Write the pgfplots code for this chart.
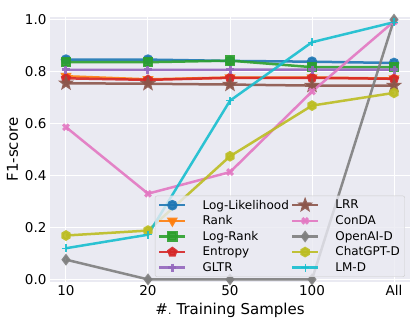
\documentclass[border=0pt]{standalone}
\usepackage{fontspec}
\setmainfont{DejaVu Sans}
\usepackage{pgfplots}
\pgfplotsset{compat=1.18}
\usetikzlibrary{plotmarks}

\definecolor{bgc}{HTML}{EAEAF2}
\definecolor{c0}{HTML}{1F77B4}
\definecolor{c1}{HTML}{FF7F0E}
\definecolor{c2}{HTML}{2CA02C}
\definecolor{c3}{HTML}{D62728}
\definecolor{c4}{HTML}{9467BD}
\definecolor{c5}{HTML}{8C564B}
\definecolor{c6}{HTML}{E377C2}
\definecolor{c7}{HTML}{7F7F7F}
\definecolor{c8}{HTML}{BCBD22}
\definecolor{c9}{HTML}{17BECF}

% filled star and hexagon marks
\pgfdeclareplotmark{fstar}{%
  \pgfpathmoveto{\pgfpointpolar{90}{1.2\pgfplotmarksize}}%
  \pgfpathlineto{\pgfpointpolar{126}{0.5\pgfplotmarksize}}%
  \pgfpathlineto{\pgfpointpolar{162}{1.2\pgfplotmarksize}}%
  \pgfpathlineto{\pgfpointpolar{198}{0.5\pgfplotmarksize}}%
  \pgfpathlineto{\pgfpointpolar{234}{1.2\pgfplotmarksize}}%
  \pgfpathlineto{\pgfpointpolar{270}{0.5\pgfplotmarksize}}%
  \pgfpathlineto{\pgfpointpolar{306}{1.2\pgfplotmarksize}}%
  \pgfpathlineto{\pgfpointpolar{342}{0.5\pgfplotmarksize}}%
  \pgfpathlineto{\pgfpointpolar{18}{1.2\pgfplotmarksize}}%
  \pgfpathlineto{\pgfpointpolar{54}{0.5\pgfplotmarksize}}%
  \pgfpathclose\pgfusepathqfillstroke}
\pgfdeclareplotmark{hexa}{%
  \pgfpathmoveto{\pgfpointpolar{90}{\pgfplotmarksize}}%
  \pgfpathlineto{\pgfpointpolar{150}{\pgfplotmarksize}}%
  \pgfpathlineto{\pgfpointpolar{210}{\pgfplotmarksize}}%
  \pgfpathlineto{\pgfpointpolar{270}{\pgfplotmarksize}}%
  \pgfpathlineto{\pgfpointpolar{330}{\pgfplotmarksize}}%
  \pgfpathlineto{\pgfpointpolar{30}{\pgfplotmarksize}}%
  \pgfpathclose\pgfusepathqfillstroke}

\begin{document}
\begin{tikzpicture}
\path[use as bounding box] (-50pt,-50pt) rectangle (365pt,282pt);
\begin{axis}[
    scale only axis,
    width=360pt, height=265pt,
    xmin=-0.195, xmax=4.195,
    ymin=-0.01, ymax=1.01,
    xtick={0,1,2,3,4},
    xticklabels={10,20,50,100,All},
    ytick={0,0.2,0.4,0.6,0.8,1.0},
    yticklabel style={/pgf/number format/fixed, /pgf/number format/precision=1, /pgf/number format/fixed zerofill},
    /pgf/number format/assume math mode=true,
    tick label style={font=\fontsize{13.5}{16}\selectfont},
    label style={font=\fontsize{15}{18}\selectfont},
    xlabel={$\#.$ Training Samples},
    ylabel={F1-score},
    axis background/.style={fill=bgc},
    axis line style={draw=none},
    tick style={draw=none},
    grid=major,
    major grid style={white, line width=1pt},
    clip=false,
    every axis plot/.append style={line width=2.5pt, mark size=4pt, opacity=0.9},
    transpose legend,
    legend columns=5,
    legend cell align=left,
    legend image code/.code={\draw[mark repeat=2, mark phase=2]
        plot coordinates {(0pt,0pt) (13pt,0pt) (26pt,0pt)};},
    legend style={at={(0.986,0.019)}, anchor=south east,
        fill=bgc, fill opacity=0.8, text opacity=1,
        draw=white!80!black, rounded corners=2pt,
        font=\fontsize{12}{14}\selectfont,
        row sep=1pt,
        /tikz/every odd column/.append style={column sep=14pt}},
]
\addplot[color=c0, mark=*] coordinates {(0,0.846) (1,0.846) (2,0.841) (3,0.838) (4,0.833)};
\addlegendentry{Log-Likelihood}
\addplot[color=c1, mark=triangle*, mark options={rotate=180}] coordinates {(0,0.782) (1,0.770) (2,0.777) (3,0.777) (4,0.773)};
\addlegendentry{Rank}
\addplot[color=c2, mark=square*] coordinates {(0,0.836) (1,0.836) (2,0.842) (3,0.817) (4,0.817)};
\addlegendentry{Log-Rank}
\addplot[color=c3, mark=pentagon*] coordinates {(0,0.774) (1,0.768) (2,0.776) (3,0.776) (4,0.772)};
\addlegendentry{Entropy}
\addplot[color=c4, mark=+, mark options={line width=3pt}] coordinates {(0,0.807) (1,0.806) (2,0.807) (3,0.807) (4,0.807)};
\addlegendentry{GLTR}
\addplot[color=c5, mark=fstar] coordinates {(0,0.755) (1,0.753) (2,0.750) (3,0.746) (4,0.746)};
\addlegendentry{LRR}
\addplot[color=c6, mark=x, mark options={line width=3pt}] coordinates {(0,0.586) (1,0.330) (2,0.413) (3,0.723) (4,0.993)};
\addlegendentry{ConDA}
\addplot[color=c7, mark=diamond*] coordinates {(0,0.076) (1,0.0) (2,0.0) (3,0.0) (4,1.0)};
\addlegendentry{OpenAI-D}
\addplot[color=c8, mark=hexa] coordinates {(0,0.169) (1,0.188) (2,0.474) (3,0.669) (4,0.718)};
\addlegendentry{ChatGPT-D}
\addplot[color=c9, mark=+, mark options={line width=1.2pt}] coordinates {(0,0.120) (1,0.172) (2,0.688) (3,0.913) (4,0.990)};
\addlegendentry{LM-D}
\end{axis}
\end{tikzpicture}
\end{document}
